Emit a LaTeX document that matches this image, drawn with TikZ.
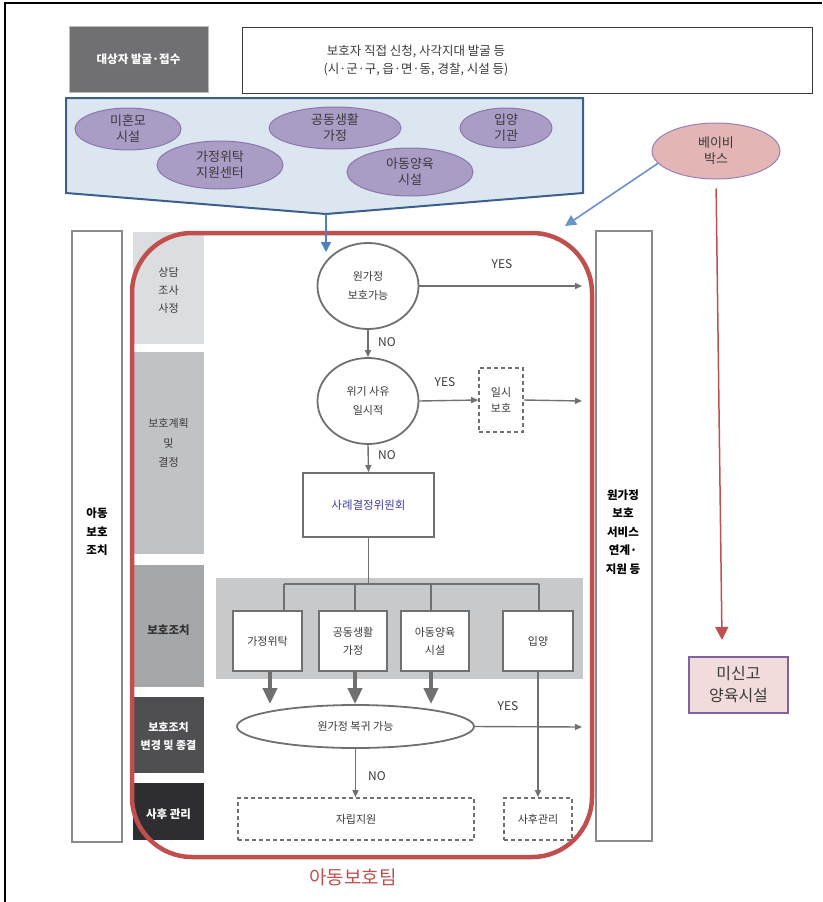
\documentclass[tikz,border=0pt]{standalone}
\usepackage{fontspec}
\setmainfont{Noto Sans CJK KR}
\usetikzlibrary{shapes.geometric,arrows.meta}
\definecolor{inkgray}{HTML}{3A3A3A}
\definecolor{linegray}{HTML}{707070}
\definecolor{framegray}{HTML}{8A8A8A}
\definecolor{intakefill}{HTML}{707073}
\definecolor{pentfill}{HTML}{DCE6F1}
\definecolor{pentline}{HTML}{3D5F8C}
\definecolor{agencyfill}{HTML}{A99CC5}
\definecolor{agencyline}{HTML}{8A78AD}
\definecolor{babyfill}{HTML}{E3B5B5}
\definecolor{babyline}{HTML}{9B7FB8}
\definecolor{teamred}{HTML}{C0504D}
\definecolor{flowblue}{HTML}{4F81BD}
\definecolor{pinkfill}{HTML}{F2DCDB}
\definecolor{pinkline}{HTML}{8064A2}
\definecolor{stageA}{HTML}{DCDDE0}
\definecolor{stageB}{HTML}{C1C2C5}
\definecolor{stageC}{HTML}{A6A7A9}
\definecolor{stageD}{HTML}{4F4F52}
\definecolor{stageE}{HTML}{2E2E30}
\definecolor{panelgray}{HTML}{C8C9CB}
\definecolor{committeeblue}{HTML}{40409E}
\newcommand\fsz[2]{\fontsize{#1}{#2}\selectfont}

\begin{document}
\begin{tikzpicture}[x=1pt,y=-1pt,
  every node/.style={inner sep=0pt, align=center, text=inkgray, font=\fsz{11}{18}},
  conn/.style={draw=linegray, line width=1.4pt},
  arr/.style={conn, -{Triangle[length=7pt,width=6pt]}},
  bigarr/.style={draw=linegray, line width=4.5pt, -{Triangle[length=16pt,width=14pt]}},
  plainbox/.style={rectangle, draw=linegray, line width=1.8pt, fill=white},
  dashbox/.style={rectangle, draw=linegray, line width=1.6pt, dash pattern=on 4pt off 3pt, fill=white},
  decision/.style={ellipse, draw=linegray, line width=1.8pt, fill=white},
  agency/.style={ellipse, draw=agencyline, line width=1pt, fill=agencyfill, font=\fsz{13}{16}},
  stagebox/.style={rectangle, minimum width=71pt},
  sidecol/.style={rectangle, draw=framegray, line width=1.5pt, fill=white},
  sidetext/.style={font=\fsz{11.5}{18.5}\bfseries, text=black},
  yn/.style={font=\fsz{12}{14}},
]
\useasboundingbox (0,0) rectangle (822,902);

% page frame (top and left rules)
\draw[line width=1.6pt] (4,3) -- (822,3);
\draw[line width=1.6pt] (5,3) -- (5,902);

% intake header
\node[rectangle, fill=intakefill, draw=framegray!60, minimum width=139pt, minimum height=66pt,
      text=white, font=\fsz{11.5}{14}\bfseries] (intake) at (138.5,59) {대상자 발굴·접수};
\node[rectangle, draw=inkgray, line width=1pt, minimum width=570pt, minimum height=66pt] (srcbox) at (527,60) {};
\node[font=\fsz{12.5}{18}] (srctext) at (416,61) {보호자 직접 신청, 사각지대 발굴 등\\(시·군·구, 읍·면·동, 경찰, 시설 등)};

% referral agencies chevron
\coordinate (pentTip) at (326,214);
\draw[fill=pentfill, draw=pentline, line width=2pt, line join=miter]
  (66,98) -- (583,98) -- (583,193) -- (pentTip) -- (66,193) -- cycle;
\node[agency, minimum width=106pt, minimum height=42pt] (ag1) at (128,129) {미혼모\\시설};
\node[agency, minimum width=126pt, minimum height=48pt] (ag2) at (220,165) {가정위탁\\지원센터};
\node[agency, minimum width=132pt, minimum height=42pt] (ag3) at (335,128) {공동생활\\가정};
\node[agency, minimum width=126pt, minimum height=48pt] (ag4) at (410,172) {아동양육\\시설};
\node[agency, minimum width=92pt, minimum height=40pt] (ag5) at (506,128) {입양\\기관};

% baby box and unreported facilities
\node[ellipse, fill=babyfill, draw=babyline, line width=1pt, minimum width=128pt, minimum height=56pt,
      font=\fsz{13}{16}] (baby) at (716,151) {베이비\\박스};
\coordinate (babyIn) at (565,226);
\coordinate (redTip) at (722,640);
\node[rectangle, fill=pinkfill, draw=pinkline, line width=1.5pt, minimum width=99pt, minimum height=56pt,
      font=\fsz{16}{22}] (unrep) at (738.5,685) {미신고\\양육시설};

% side columns
\node[sidecol, minimum width=50pt, minimum height=611pt] (leftcol) at (97,536.5) {};
\node[sidetext] (lefttext) at (97,532) {아동\\보호\\조치};
\node[sidecol, minimum width=56pt, minimum height=610pt] (rightcol) at (624,536) {};
\node[sidetext] (righttext) at (623,532) {원가정\\보호\\서비스\\연계·\\지원 등};

% stage labels
\node[stagebox, fill=stageA, minimum height=112pt] (s1) at (168.5,288) {};
\node (s1t) at (168.5,290) {상담\\조사\\사정};
\node[stagebox, fill=stageB, minimum height=202pt] (s2) at (168.5,453) {};
\node[font=\fsz{11}{19.5}] (s2t) at (168.5,443) {보호계획\\및\\결정};
\node[stagebox, fill=stageC, minimum height=122pt] (s3) at (168.5,626) {};
\node[font=\fsz{11.5}{18}\bfseries, text=black!80] (s3t) at (168.5,630) {보호조치};
\node[stagebox, fill=stageD, minimum height=76pt] (s4) at (168.5,735) {};
\node[font=\fsz{11}{18}\bfseries, text=white] (s4t) at (168.5,736) {보호조치\\변경 및 종결};
\node[stagebox, fill=stageE, minimum height=57pt] (s5) at (168.5,811.5) {};
\node[font=\fsz{11.5}{18}\bfseries, text=white] (s5t) at (168.5,814) {사후 관리};

% grey panel of protective measures
\node[rectangle, fill=panelgray, minimum width=367pt, minimum height=101pt] (panel) at (399.5,628.5) {};

% decision flow
\node[decision, minimum width=101pt, minimum height=86pt, font=\fsz{11}{19}] (home) at (368,286) {원가정\\보호가능};
\node[decision, minimum width=101pt, minimum height=86pt, font=\fsz{11}{19}] (crisis) at (368,401) {위기 사유\\일시적};
\node[dashbox, minimum width=44pt, minimum height=64pt, font=\fsz{11}{16}] (temp) at (501,400) {일시\\보호};
\node[plainbox, minimum width=131pt, minimum height=64pt, text=committeeblue, font=\fsz{11.5}{14}] (committee) at (368.5,505) {사례결정위원회};

\coordinate (yesA) at (582,286);
\coordinate (yesB) at (582,401);
\coordinate (yesC) at (582,727);

\node[plainbox, minimum width=69pt, minimum height=60pt] (b1) at (267.5,641) {가정위탁};
\node[plainbox, minimum width=68pt, minimum height=60pt] (b2) at (353,641) {공동생활\\가정};
\node[plainbox, minimum width=68pt, minimum height=60pt] (b3) at (435,641) {아동양육\\시설};
\node[plainbox, minimum width=70pt, minimum height=60pt] (b4) at (538,641) {입양};

\node[decision, minimum width=237pt, minimum height=43pt] (ret) at (355.5,726.5) {원가정 복귀 가능};
\node[dashbox, minimum width=236pt, minimum height=42pt] (indep) at (356,819) {자립지원};
\node[dashbox, minimum width=68pt, minimum height=42pt] (after) at (538,819) {사후관리};

% connectors
\draw[arr] (home.east) -- (yesA);
\node[yn] (yes1) at (502,264) {YES};
\draw[arr] (home.south) -- (crisis.north);
\node[yn] (no1) at (387,342) {NO};
\draw[arr] (crisis.east) -- (temp.west);
\node[yn] (yes2) at (445,382) {YES};
\draw[arr] (temp.east) -- (yesB);
\draw[arr] (crisis.south) -- (committee.north);
\node[yn] (no2) at (387,455) {NO};

\coordinate (brA) at (284,584);
\coordinate (brB) at (355,584);
\coordinate (brC) at (431,584);
\coordinate (brD) at (539,584);
\draw[conn] (committee.south) -- (committee.south |- brA);
\draw[conn] (brA) -- (brD);
\draw[conn] (brA) -- (b1.north -| brA);
\draw[conn] (brB) -- (b2.north -| brB);
\draw[conn] (brC) -- (b3.north -| brC);
\draw[conn] (brD) -- (b4.north -| brD);

\coordinate (dropA) at (270,0);
\coordinate (dropB) at (355,0);
\coordinate (dropC) at (431,0);
\draw[bigarr] (b1.south -| dropA) -- (ret.north -| dropA);
\draw[bigarr] (b2.south -| dropB) -- (ret.north -| dropB);
\draw[bigarr] (b3.south -| dropC) -- (ret.north -| dropC);

\draw[arr] (ret.east) -- (yesC);
\node[yn] (yes3) at (508,706) {YES};
\draw[arr] (ret.south) -- (indep.north -| ret.south);
\node[yn] (no3) at (377,776) {NO};
\draw[arr] (b4.south) -- (after.north);

% child protection team outline
\draw[teamred, line width=4.5pt, rounded corners=60pt] (132,233) rectangle (592,857);
\node[text=teamred, font=\fsz{19}{22}] (team) at (353,877) {아동보호팀};

% referral arrows
\draw[flowblue, line width=1.4pt, -{Triangle[length=10pt,width=10pt]}] (pentTip) -- (326,252);
\draw[flowblue!85, line width=1.6pt, -{Triangle[length=11pt,width=11pt]}] (baby.192) -- (babyIn);
\draw[teamred, line width=1.5pt, shorten <=9pt, -{Triangle[length=13pt,width=13pt]}] (baby.south) -- (redTip);
\end{tikzpicture}
\end{document}
